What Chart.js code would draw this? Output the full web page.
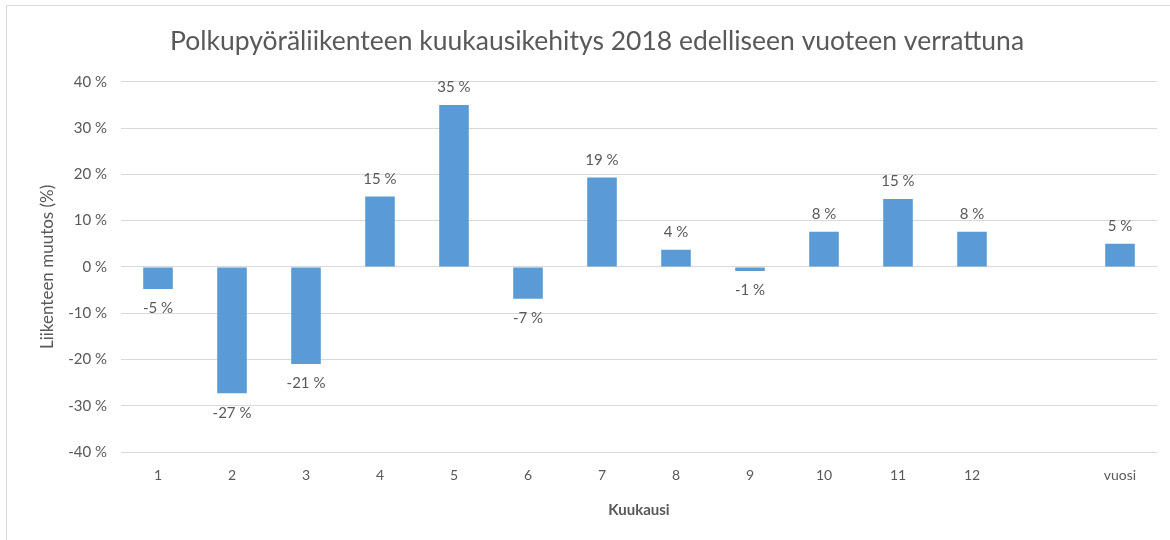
<!DOCTYPE html>
<html>
<head>
<meta charset="utf-8">
<script src="https://cdn.jsdelivr.net/npm/chart.js@4/dist/chart.umd.min.js"></script>
<style>
    html, body { margin: 0; padding: 0; background: #ffffff; }
    #wrap { width: 1170px; height: 540px; position: relative; }
</style>
</head>
<body>
<div id="wrap"><canvas id="chart-canvas" width="1170" height="540"></canvas></div>
<script>
// Chart data
const months = ['1', '2', '3', '4', '5', '6', '7', '8', '9', '10', '11', '12', '', 'vuosi'];
const changePct = [-4.8, -27.3, -21.0, 15.2, 35.0, -6.9, 19.3, 3.7, -0.9, 7.6, 14.7, 7.6, null, 5.0];
const yTicks = [-40, -30, -20, -10, 0, 10, 20, 30, 40];

const textColor = '#595959';
const gridColor = '#d9d9d9';
const barColor = '#5b9bd5';

Chart.defaults.font.family = 'Lato, "Open Sans", sans-serif';
Chart.defaults.color = textColor;

// Outer frame like the Excel chart border
const framePlugin = {
    id: 'frame',
    beforeDraw(chart) {
        const ctx = chart.ctx;
        ctx.save();
        ctx.fillStyle = '#ffffff';
        ctx.fillRect(0, 0, chart.width, chart.height);
        ctx.strokeStyle = gridColor;
        ctx.lineWidth = 1;
        ctx.beginPath();
        ctx.moveTo(6.5, chart.height);
        ctx.lineTo(6.5, 5.5);
        ctx.lineTo(chart.width, 5.5);
        ctx.stroke();
        ctx.restore();
    }
};

// Value labels above / below each bar
const valueLabels = {
    id: 'valueLabels',
    afterDatasetsDraw(chart) {
        const ctx = chart.ctx;
        const meta = chart.getDatasetMeta(0);
        ctx.save();
        ctx.font = '15px Lato, "Open Sans", sans-serif';
        ctx.fillStyle = textColor;
        ctx.textAlign = 'center';
        meta.data.forEach((bar, i) => {
            const v = changePct[i];
            if (v === null) return;
            const txt = Math.round(v) + ' %';
            if (v >= 0) {
                ctx.textBaseline = 'bottom';
                ctx.fillText(txt, bar.x, bar.y - 10);
            } else {
                ctx.textBaseline = 'top';
                ctx.fillText(txt, bar.x, bar.y + 12);
            }
        });
        ctx.restore();
    }
};

const ctx = document.getElementById('chart-canvas');
const chart = new Chart(ctx, {
    type: 'bar',
    data: {
        labels: months,
        datasets: [{
            data: changePct,
            backgroundColor: barColor,
            barPercentage: 0.4,
            categoryPercentage: 1.0
        }]
    },
    options: {
        responsive: false,
        animation: false,
        layout: { padding: { left: 37, right: 13, top: 0, bottom: 17 } },
        plugins: {
            legend: { display: false },
            tooltip: { enabled: false },
            title: {
                display: true,
                text: 'Polkupyöräliikenteen kuukausikehitys 2018 edelliseen vuoteen verrattuna',
                color: textColor,
                font: { size: 26.5, weight: 'normal' },
                padding: { top: 26, bottom: 24 }
            }
        },
        scales: {
            x: {
                grid: { display: false, drawTicks: false },
                border: { display: false },
                ticks: { color: textColor, font: { size: 14 }, padding: 15, maxRotation: 0, autoSkip: false },
                title: {
                    display: true,
                    text: 'Kuukausi',
                    color: textColor,
                    font: { size: 15, weight: 'bold' },
                    padding: { top: 10 }
                },
                afterFit(scale) { scale.height = 71; }
            },
            y: {
                min: -40,
                max: 40,
                afterBuildTicks(scale) { scale.ticks = yTicks.map(v => ({ value: v })); },
                grid: { color: gridColor, drawTicks: false },
                border: { display: false },
                ticks: {
                    color: textColor,
                    font: { size: 15 },
                    padding: 14,
                    callback: v => v + ' %'
                },
                title: {
                    display: true,
                    text: 'Liikenteen muutos (%)',
                    color: textColor,
                    font: { size: 17, weight: 'normal' },
                    padding: 0
                },
                afterFit(scale) { scale.width = 84; }
            }
        }
    },
    plugins: [framePlugin, valueLabels]
});
</script>
</body>
</html>
